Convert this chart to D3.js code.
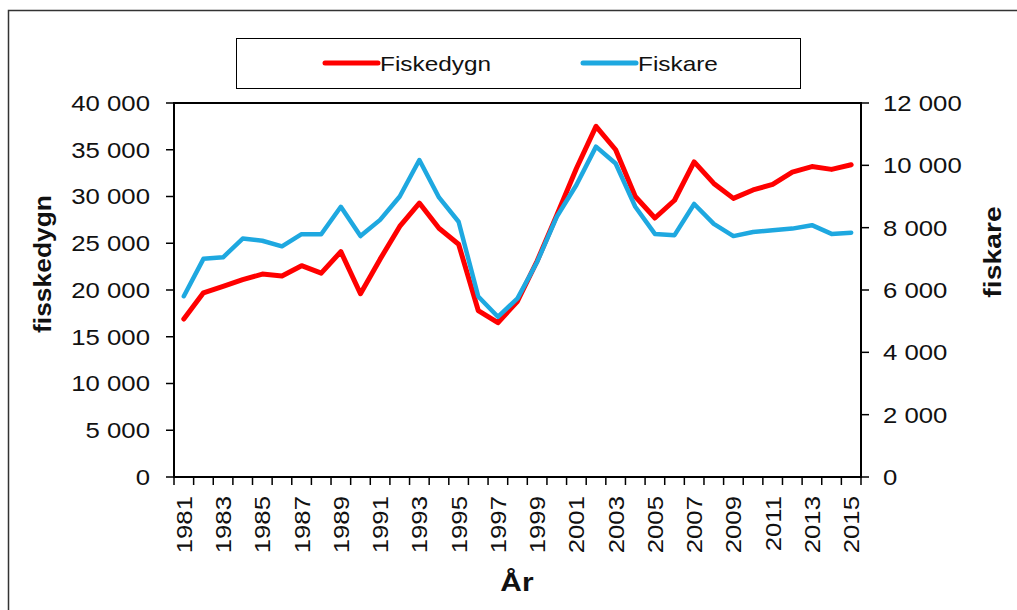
<!DOCTYPE html>
<html>
<head>
<meta charset="utf-8">
<script src="https://cdn.jsdelivr.net/npm/d3@7"></script>
<style>
  body { margin: 0; background: #fff; }
  text { font-family: "Liberation Sans", Arial, sans-serif; fill: #111; }
</style>
</head>
<body>
<div id="chart"></div>
<script>
"use strict"

const years = d3.range(1981, 2016)
const fiskedygn = [16900, 19700, 20400, 21100, 21700, 21500, 22600, 21800, 24100, 19600,
  23300, 26800, 29300, 26600, 24900, 17800, 16500, 18800, 23100, 28000,
  33000, 37500, 35000, 30000, 27700, 29600, 33700, 31400, 29800, 30700,
  31300, 32600, 33200, 32900, 33400]
const fiskare = [5800, 7000, 7050, 7650, 7580, 7400, 7790, 7790, 8670, 7730,
  8250, 9000, 10170, 8970, 8190, 5790, 5140, 5730, 6900, 8350,
  9370, 10600, 10060, 8670, 7800, 7760, 8760, 8120, 7730, 7860,
  7920, 7970, 8080, 7800, 7840]
const leftTicks = d3.range(0, 40001, 5000)
const rightTicks = d3.range(0, 12001, 2000)
const xLabels = years.filter((y) => y % 2 == 1)
const seriesNames = ["Fiskedygn", "Fiskare"]
const colors = ["#ff0000", "#1ea8e0"]

const W = 1017, H = 610
const plot = { left: 174, right: 861, top: 103, bottom: 477 }

// text in the picture is wider than Arial, stretch it along the baseline
function stretch(sel, k) {
  sel.each(function() {
    let len = this.getComputedTextLength()
    d3.select(this).attr("textLength", len * k).attr("lengthAdjust", "spacingAndGlyphs")
  })
}

const fmt = (v) => d3.format(",")(v).replace(/,/g, " ")

const svg = d3.select("#chart").append("svg")
  .attr("width", W)
  .attr("height", H)

// outer chart frame (cut off at the right and bottom)
svg.append("rect")
  .attr("x", 8.5).attr("y", 10.5)
  .attr("width", 1100).attr("height", 700)
  .attr("fill", "none")
  .attr("stroke", "#333")
  .attr("stroke-width", 1.5)

const x = d3.scaleBand().domain(years).range([plot.left, plot.right]).padding(0)
const cx = (d) => x(d) + x.bandwidth() / 2
const yL = d3.scaleLinear().domain([0, 40000]).range([plot.bottom, plot.top])
const yR = d3.scaleLinear().domain([0, 12000]).range([plot.bottom, plot.top])

// plot frame
svg.append("rect")
  .attr("x", plot.left).attr("y", plot.top)
  .attr("width", plot.right - plot.left).attr("height", plot.bottom - plot.top)
  .attr("fill", "none")
  .attr("stroke", "#000")
  .attr("stroke-width", 2)

// left axis
const leftAxis = svg.append("g")
leftAxis.selectAll("line")
  .data(leftTicks)
  .enter().append("line")
    .attr("x1", plot.left - 8).attr("x2", plot.left)
    .attr("y1", (d) => yL(d)).attr("y2", (d) => yL(d))
    .attr("stroke", "#000").attr("stroke-width", 1.5)
leftAxis.selectAll("text")
  .data(leftTicks)
  .enter().append("text")
    .attr("x", 150)
    .attr("y", (d) => yL(d))
    .attr("dy", "0.36em")
    .attr("text-anchor", "end")
    .attr("font-size", "22px")
    .text(fmt)
    .call(stretch, 1.17)

// right axis
const rightAxis = svg.append("g")
rightAxis.selectAll("line")
  .data(rightTicks)
  .enter().append("line")
    .attr("x1", plot.right).attr("x2", plot.right + 8)
    .attr("y1", (d) => yR(d)).attr("y2", (d) => yR(d))
    .attr("stroke", "#000").attr("stroke-width", 1.5)
rightAxis.selectAll("text")
  .data(rightTicks)
  .enter().append("text")
    .attr("x", 883)
    .attr("y", (d) => yR(d))
    .attr("dy", "0.36em")
    .attr("font-size", "22px")
    .text(fmt)
    .call(stretch, 1.17)

// x axis: ticks between categories, labels on every second year
const bottomAxis = svg.append("g")
bottomAxis.selectAll("line")
  .data(years.concat([null]))
  .enter().append("line")
    .attr("x1", (d) => d == null ? plot.right : x(d))
    .attr("x2", (d) => d == null ? plot.right : x(d))
    .attr("y1", plot.bottom).attr("y2", plot.bottom + 8)
    .attr("stroke", "#000").attr("stroke-width", 1.5)
bottomAxis.selectAll("text")
  .data(xLabels)
  .enter().append("text")
    .attr("transform", (d) => `translate(${cx(d) + 8}, ${plot.bottom + 19}) rotate(-90)`)
    .attr("text-anchor", "end")
    .attr("font-size", "22px")
    .text((d) => d)
    .call(stretch, 1.17)

// axis titles
svg.append("text")
  .attr("transform", "translate(51, 264) rotate(-90)")
  .attr("text-anchor", "middle")
  .attr("font-size", "24px")
  .attr("font-weight", "bold")
  .text("fisskedygn")
  .call(stretch, 1.1)

svg.append("text")
  .attr("transform", "translate(1001, 252) rotate(-90)")
  .attr("text-anchor", "middle")
  .attr("font-size", "24px")
  .attr("font-weight", "bold")
  .text("fiskare")
  .call(stretch, 1.18)

svg.append("text")
  .attr("x", 517)
  .attr("y", 591)
  .attr("text-anchor", "middle")
  .attr("font-size", "26px")
  .attr("font-weight", "bold")
  .text("År")
  .call(stretch, 1.15)

// series
const lineL = d3.line().x((d, i) => cx(years[i])).y((d) => yL(d))
const lineR = d3.line().x((d, i) => cx(years[i])).y((d) => yR(d))

svg.append("path")
  .datum(fiskedygn)
  .attr("d", lineL)
  .attr("fill", "none")
  .attr("stroke", colors[0])
  .attr("stroke-width", 5)
  .attr("stroke-linejoin", "round")
  .attr("stroke-linecap", "round")

svg.append("path")
  .datum(fiskare)
  .attr("d", lineR)
  .attr("fill", "none")
  .attr("stroke", colors[1])
  .attr("stroke-width", 4.5)
  .attr("stroke-linejoin", "round")
  .attr("stroke-linecap", "round")

// legend
const legend = svg.append("g")
legend.append("rect")
  .attr("x", 236.5).attr("y", 38.5)
  .attr("width", 564).attr("height", 50)
  .attr("fill", "#fff")
  .attr("stroke", "#000")
  .attr("stroke-width", 1)

const legendX = [325, 583]
seriesNames.forEach((name, i) => {
  legend.append("line")
    .attr("x1", legendX[i]).attr("x2", legendX[i] + 53)
    .attr("y1", 63).attr("y2", 63)
    .attr("stroke", colors[i])
    .attr("stroke-width", 5)
    .attr("stroke-linecap", "round")
  legend.append("text")
    .attr("x", legendX[i] + 55)
    .attr("y", 71)
    .attr("font-size", "21px")
    .text(name)
    .call(stretch, 1.16)
})
</script>
</body>
</html>
